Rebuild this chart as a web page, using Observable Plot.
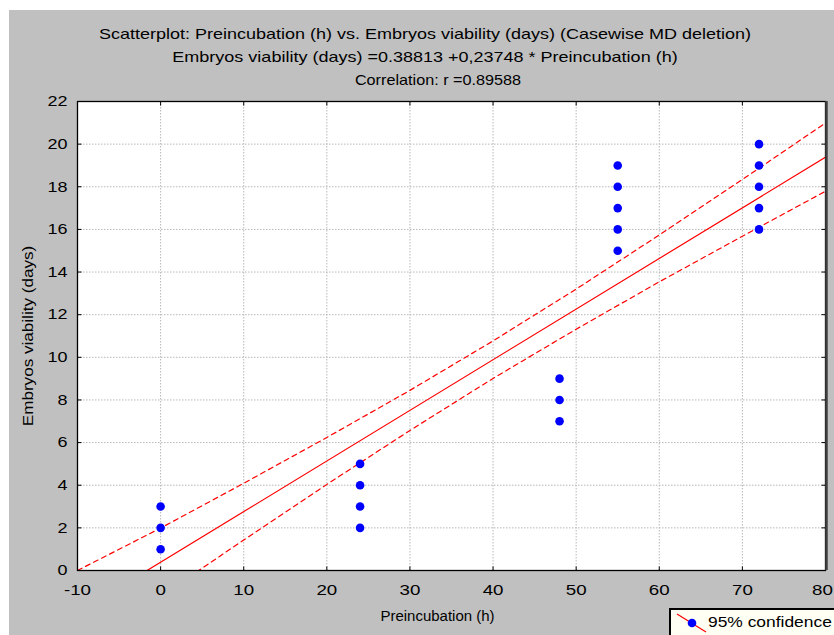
<!DOCTYPE html>
<html>
<head>
<meta charset="utf-8">
<script src="https://cdn.jsdelivr.net/npm/d3@7"></script>
<script src="https://cdn.jsdelivr.net/npm/@observablehq/plot@0.6"></script>
<style>
  body { margin:0; width:834px; height:635px; overflow:hidden; background:#fff; position:relative;
         font-family:"Liberation Sans", Arial, sans-serif; }
  #panel { position:absolute; left:9px; top:10px; width:825px; height:625px; background:#c0c0c0; }
  .tl { position:absolute; white-space:nowrap; font-size:15px; color:#000; }
  #chart { position:absolute; left:0; top:90px; }
  #legend { position:absolute; left:669px; top:608px; width:200px; height:40px; background:#fffff4;
            border:2px solid #000; box-sizing:border-box; }
  #legend svg { position:absolute; left:0; top:0; }
  #legend span { position:absolute; left:37px; top:3px; font-size:15px; white-space:nowrap;
                 transform:scaleX(1.16); transform-origin:left center; }
</style>
</head>
<body>
<div id="panel"></div>
<div class="tl" style="left:425px; top:33px; transform:translate(-50%,-50%) scaleX(1.2)">Scatterplot: Preincubation (h) vs. Embryos viability (days) (Casewise MD deletion)</div>
<div class="tl" style="left:425px; top:56px; transform:translate(-50%,-50%) scaleX(1.2)">Embryos viability (days) =0.38813 +0,23748 * Preincubation (h)</div>
<div class="tl" style="left:438px; top:79px; transform:translate(-50%,-50%) scaleX(1.08)">Correlation: r =0.89588</div>
<div id="chart"></div>
<div id="legend">
  <svg width="40" height="30"><line x1="6" y1="4" x2="35" y2="22" stroke="red" stroke-width="1.2"/><circle cx="21" cy="13" r="4.3" fill="blue"/></svg>
  <span>95% confidence</span>
</div>
<script>
const xTicks = [-10, 0, 10, 20, 30, 40, 50, 60, 70, 80];
const yTicks = [0, 2, 4, 6, 8, 10, 12, 14, 16, 18, 20, 22];

const preincubation = [0,0,0, 24,24,24,24, 48,48,48, 55,55,55,55,55, 72,72,72,72,72];
const viability     = [1,2,3, 2,3,4,5,     7,8,9,    15,16,17,18,19, 16,17,18,19,20];

const intercept = 0.38813;
const slope = 0.23748;
const fitRange = [-10, 80];

const bandX     = [-10,   0,    10,   20,   30,   40,    50,    60,    70,    80];
const bandUpper = [0.0,   1.99, 4.09, 6.24, 8.45, 10.77, 13.2,  15.74, 18.34, 20.99];
const bandLower = [-3.88, -1.21,1.43, 4.04, 6.57, 9.01,  11.32, 13.54, 15.68, 17.79];

const points = preincubation.map((x, i) => ({x, y: viability[i]}));
const fit = fitRange.map(x => ({x, y: intercept + slope * x}));
const upper = bandX.map((x, i) => ({x, y: bandUpper[i]}));
const lower = bandX.map((x, i) => ({x, y: bandLower[i]}));

const gridStyle = {stroke: "#b8b8b8", strokeOpacity: 1, strokeWidth: 1, strokeDasharray: "1.5,1.5"};
const tl = 0.19, tlx = 0.48;

const chart = Plot.plot({
  width: 834,
  height: 545,
  marginTop: 11,
  marginBottom: 65,
  marginLeft: 77,
  marginRight: 9,
  style: {background: "transparent", fontFamily: "'Liberation Sans', Arial, sans-serif", fontSize: "15px", color: "#000"},
  x: {domain: [-10, 80]},
  y: {domain: [0, 22]},
  marks: [
    Plot.frame({fill: "white", stroke: null}),
    Plot.ruleX(xTicks.slice(1, -1), {x: d => d, ...gridStyle}),
    Plot.ruleY(yTicks.slice(1, -1), {y: d => d, ...gridStyle}),
    Plot.line(upper, {x: "x", y: "y", stroke: "red", strokeWidth: 1.2, strokeDasharray: "5,4", clip: true}),
    Plot.line(lower, {x: "x", y: "y", stroke: "red", strokeWidth: 1.2, strokeDasharray: "5,4", clip: true}),
    Plot.line(fit, {x: "x", y: "y", stroke: "red", strokeWidth: 1.2, clip: true}),
    Plot.dot(points, {x: "x", y: "y", r: 4.3, fill: "blue", stroke: null}),
    Plot.link(xTicks, {x1: d => d, x2: d => d, y1: 0, y2: tl, stroke: "#000"}),
    Plot.link(xTicks, {x1: d => d, x2: d => d, y1: 22, y2: 22 - tl, stroke: "#000"}),
    Plot.link(yTicks, {y1: d => d, y2: d => d, x1: -10, x2: -10 + tlx, stroke: "#000"}),
    Plot.link(yTicks, {y1: d => d, y2: d => d, x1: 80, x2: 80 - tlx, stroke: "#000"}),
    Plot.frame({stroke: "#000", strokeWidth: 1.3}),
    Plot.ruleX([80], {x: d => d, stroke: "#404040", strokeWidth: 2.5, dx: 1}),
    Plot.axisX(xTicks, {tickSize: 0, tickPadding: 14, tickFormat: d => String(d), label: null, fontSize: 15}),
    Plot.axisY(yTicks, {tickSize: 0, tickPadding: 10, tickFormat: d => String(d), label: null, fontSize: 15}),
    Plot.text(["Preincubation (h)"], {frameAnchor: "bottom", dx: -14, dy: 50, fontSize: 15}),
    Plot.text(["Embryos viability (days)"], {frameAnchor: "left", textAnchor: "middle", dx: -49, rotate: -90, fontSize: 15})
  ]
});

// widen glyphs to match the horizontally stretched lettering of the reference
function stretch(selector, k) {
  chart.querySelectorAll(selector).forEach(t => {
    const tr = t.getAttribute("transform") || "";
    t.setAttribute("transform", tr + ` scale(${k},1)`);
  });
}
const xLabels = chart.querySelectorAll('g[aria-label="x-axis tick label"] text');
if (xLabels.length) {
  const last = xLabels[xLabels.length - 1];
  last.setAttribute("transform", (last.getAttribute("transform") || "") + " translate(-3,0)");
}
stretch('g[aria-label="x-axis tick label"] text', 1.25);
stretch('g[aria-label="y-axis tick label"] text', 1.2);
const textGroups = chart.querySelectorAll('g[aria-label="text"]');
if (textGroups.length > 1) {
  textGroups[1].querySelectorAll("text").forEach(t => {
    t.setAttribute("transform", (t.getAttribute("transform") || "") + " scale(1.14,1)");
  });
}
document.getElementById("chart").appendChild(chart);
</script>
</body>
</html>
